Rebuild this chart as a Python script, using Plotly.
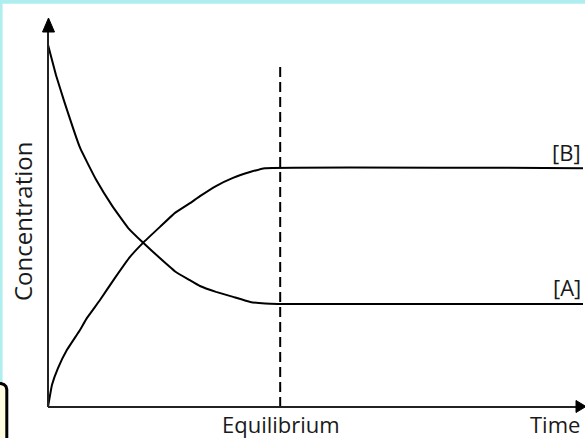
import plotly.graph_objects as go

# ---- data (time and concentration in arbitrary units) ----
time_A = [0, 1.5, 3, 6, 9, 12, 15, 17.8, 20.9, 23.9, 26.5, 28.4, 31.4, 34.6, 37.8, 40.6, 43.0, 100]
conc_A = [93.1, 85.3, 78.7, 66.6, 58.4, 51.7, 46.0, 42.2, 38.3, 34.7, 32.6, 31.1, 29.6, 28.3, 27.0, 26.6, 26.5, 26.5]

time_B = [0, 0.75, 1.87, 3.55, 5.98, 7.29, 9.72, 12.52, 15.33, 17.76, 20.93, 23.74, 26.54, 28.41, 31.40, 34.58, 37.76, 40.56, 100]
conc_B = [0, 5.7, 10.0, 14.7, 19.8, 22.9, 27.5, 33.2, 38.6, 42.2, 46.3, 49.9, 52.4, 54.2, 56.8, 58.9, 60.4, 61.4, 61.4]

eq_time = [43.4, 43.4]
eq_conc = [0, 87.7]

labels = {"B": "[B]", "A": "[A]", "eq": "Equilibrium", "x": "Time", "y": "Concentration"}

W, H = 585, 438
L, R, T, B = 48, 2, 18, 31


def px_x(px):
    return (px - L) / (W - L - R)


def px_y(py):
    return (H - B - py) / (H - T - B)


fig = go.Figure()
fig.add_trace(go.Scatter(x=time_A, y=conc_A, mode="lines",
                         line=dict(color="black", width=2, shape="spline", smoothing=0.3),
                         hoverinfo="skip", showlegend=False))
fig.add_trace(go.Scatter(x=time_B, y=conc_B, mode="lines",
                         line=dict(color="black", width=2, shape="spline", smoothing=0.3),
                         hoverinfo="skip", showlegend=False))
fig.add_trace(go.Scatter(x=eq_time, y=eq_conc, mode="lines",
                         line=dict(color="black", width=2, dash="10px,5px"),
                         hoverinfo="skip", showlegend=False))

shapes = []
# background decorations: cyan top/left strips, cream box bottom-left
cyan = "#AFEEEE"
shapes.append(dict(type="rect", xref="paper", yref="paper", layer="below",
                   x0=px_x(-2), x1=px_x(W + 2), y0=px_y(-2), y1=px_y(3.8),
                   fillcolor=cyan, line=dict(width=0)))
shapes.append(dict(type="rect", xref="paper", yref="paper", layer="below",
                   x0=px_x(-2), x1=px_x(2.6), y0=px_y(-2), y1=px_y(384),
                   fillcolor=cyan, line=dict(width=0)))


def pth(pts, close=True):
    s = "M " + " L ".join(f"{px_x(a):.5f},{px_y(b):.5f}" for a, b in pts)
    return s + (" Z" if close else "")


box_pts = [(-10, 450), (-10, 383.5), (1, 383.5), (4, 384.5), (6, 386.5), (6.8, 389.5), (6.8, 450)]
shapes.append(dict(type="path", xref="paper", yref="paper", layer="above",
                   path=pth(box_pts), fillcolor="#FFFCE0",
                   line=dict(color="black", width=3)))

# axes
axc = "#222222"
shapes.append(dict(type="line", xref="paper", yref="paper", x0=px_x(48), y0=px_y(407),
                   x1=px_x(579), y1=px_y(407), line=dict(color=axc, width=2)))
shapes.append(dict(type="line", xref="paper", yref="paper", x0=px_x(48), y0=px_y(407),
                   x1=px_x(48), y1=px_y(26), line=dict(color=axc, width=2)))
# arrowheads
shapes.append(dict(type="path", xref="paper", yref="paper",
                   path=pth([(48.5, 18), (54.5, 32), (42.5, 32)]),
                   fillcolor="black", line=dict(color="black", width=1)))
shapes.append(dict(type="path", xref="paper", yref="paper",
                   path=pth([(586, 406.5), (576, 400.5), (576, 412.5)]),
                   fillcolor="black", line=dict(color="black", width=1)))

font = dict(family="Open Sans", color="#1a1a1a", size=22)
ann = [
    dict(text=labels["B"], x=px_x(583), y=px_y(152), xanchor="right", yanchor="middle"),
    dict(text=labels["A"], x=px_x(583), y=px_y(287), xanchor="right", yanchor="middle"),
    dict(text=labels["eq"], x=px_x(281), y=px_y(424), xanchor="center", yanchor="middle"),
    dict(text=labels["x"], x=px_x(555), y=px_y(424), xanchor="center", yanchor="middle"),
    dict(text=labels["y"], x=px_x(22), y=px_y(222), xanchor="center", yanchor="middle",
         textangle=-90, font=dict(family="Open Sans", color="#1a1a1a", size=24)),
]
for a in ann:
    a.update(xref="paper", yref="paper", showarrow=False)
    a.setdefault("font", font)

fig.update_layout(
    width=W, height=H,
    margin=dict(l=L, r=R, t=T, b=B),
    paper_bgcolor="white", plot_bgcolor="white",
    xaxis=dict(range=[0, 100], visible=False, fixedrange=True),
    yaxis=dict(range=[0, 100], visible=False, fixedrange=True),
    shapes=shapes, annotations=ann, showlegend=False,
)

fig.write_html("out.html", config={"displayModeBar": False},
               post_script="document.body.style.margin='0';document.body.style.overflow='hidden';")
